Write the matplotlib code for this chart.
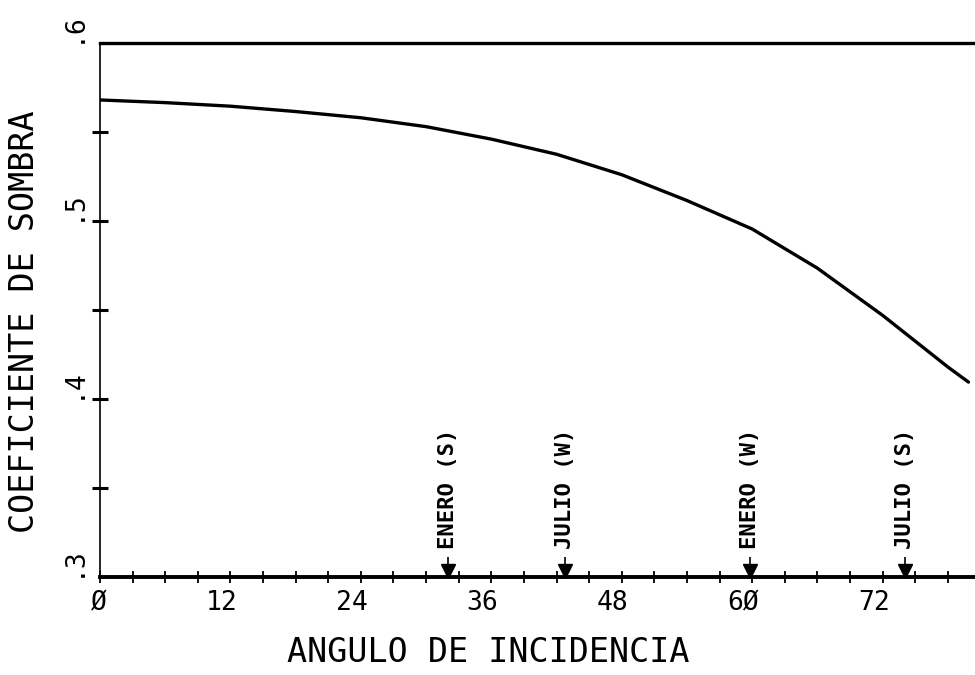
import matplotlib
matplotlib.use("Agg")
import matplotlib.pyplot as plt
import matplotlib.transforms as mtransforms

plt.rcParams['font.family'] = ['DejaVu Sans Mono', 'DejaVu Sans']

# shading coefficient vs incidence angle
angulo = [0, 6, 12, 18, 24, 30, 36, 42, 48, 54, 60, 66, 72, 78, 79.9]
coef = [0.568, 0.5665, 0.5645, 0.5615, 0.558, 0.553, 0.546, 0.5375,
        0.526, 0.5115, 0.4955, 0.4735, 0.447, 0.418, 0.4095]

# month markers on the x axis
evento_x = [32.0, 42.8, 59.8, 74.1]
evento_txt = ['ENERO (S)', 'JULIO (W)', 'ENERO (W)', 'JULIO (S)']

xmaj = [0, 12, 24, 36, 48, 60, 72]
xmaj_lbl = ['Ø', '12', '24', '36', '48', '6Ø', '72']
xminor = list(range(0, 80, 3))
yticks = [0.35, 0.4, 0.45, 0.5, 0.55]
ylbl_v = [0.3, 0.4, 0.5, 0.6]
ylbl_t = ['.3', '.4', '.5', '.6']

fig = plt.figure(figsize=(9.75, 6.75), dpi=100)
ax = fig.add_axes([100 / 975, 98 / 675, 875 / 975, 534 / 675])

ax.plot(angulo, coef, color='black', lw=2.4, solid_capstyle='round',
        solid_joinstyle='round')
ax.set_xlim(0, 80.5)
ax.set_ylim(0.3, 0.6)

# axes look
ax.spines['right'].set_visible(False)
ax.spines['top'].set_linewidth(2.4)
ax.spines['bottom'].set_linewidth(2.8)
ax.spines['left'].set_linewidth(1.2)

ax.set_xticks(xminor, minor=True)
ax.set_xticks(xmaj, xmaj_lbl)
ax.tick_params(axis='x', which='both', direction='inout', length=9,
               width=1.3, pad=5, labelsize=19)
ax.set_yticks(yticks, [''] * len(yticks))
ax.tick_params(axis='y', direction='inout', length=11, width=2.2)

shift = mtransforms.ScaledTranslation(7 / 100, 0, fig.dpi_scale_trans)
for lbl in ax.get_xticklabels():
    lbl.set_ha('right')
    lbl.set_transform(lbl.get_transform() + shift)

# rotated y labels, dot sitting just left of the tick
blend = mtransforms.blended_transform_factory(ax.transAxes, ax.transData)
for v, t in zip(ylbl_v, ylbl_t):
    ax.text(-27 / 875, v, t, transform=blend, rotation=90, ha='center',
            va='bottom', fontsize=19, clip_on=False)

# markers with vertical captions
mk_off = mtransforms.offset_copy(ax.transData, fig=fig, x=0, y=6, units='dots')
stem_off = mtransforms.offset_copy(ax.transData, fig=fig, x=0, y=14, units='dots')
for x, t in zip(evento_x, evento_txt):
    ax.plot([x], [0.3], marker='v', ms=10, color='black', transform=mk_off,
            clip_on=False)
    ax.plot([x], [0.3], marker='|', ms=8, mew=1.2, color='black',
            transform=stem_off, clip_on=False)
    ax.annotate(t, (x, 0.3), xytext=(0, 28), textcoords='offset pixels',
                rotation=90, ha='center', va='bottom', fontsize=16,
                fontweight='bold')

fig.text(488 / 975, (675 - 652) / 675, 'ANGULO DE INCIDENCIA',
         ha='center', va='center', fontsize=24)
fig.text(25 / 975, (675 - 322) / 675, 'COEFICIENTE DE SOMBRA',
         ha='center', va='center', rotation=90, fontsize=24)

fig.savefig('out.png', dpi=100, facecolor='white')
